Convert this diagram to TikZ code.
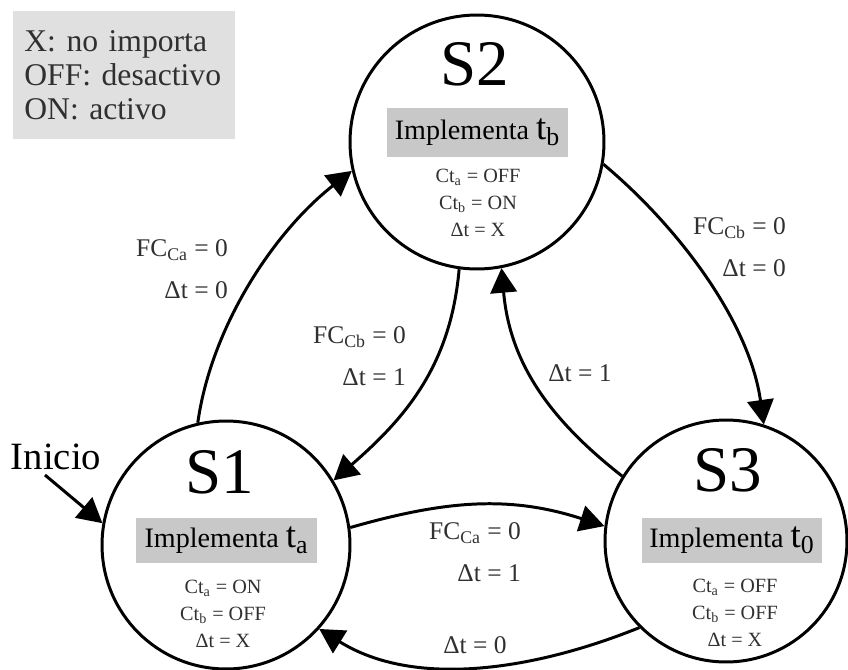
\documentclass[tikz,border=0pt]{standalone}
\usepackage{fontspec}
\setmainfont{Liberation Serif}
\usepackage{tikz}
\usetikzlibrary{arrows.meta}
\definecolor{gris}{HTML}{C8C8C8}
\definecolor{grisclaro}{HTML}{E0E0E0}
\definecolor{texto}{HTML}{303030}
\newcommand{\tgrande}[1]{{\fontsize{21}{21}\selectfont t\textsubscript{#1}}}
\tikzset{
    every node/.style={align=center,},
    estado/.style={draw,circle,line width=1.7pt,minimum size=4.96cm,inner sep=0pt,},
    titulo/.style={font=\fontsize{37}{37}\selectfont,},
    tarea/.style={fill=gris,minimum width=3.62cm,minimum height=0.9cm,inner sep=0pt,font=\fontsize{16}{18}\selectfont,},
    salidas/.style={font=\fontsize{11.5}{15.4}\selectfont,text=texto,},
    etiqueta/.style={align=right,font=\fontsize{14.5}{24}\selectfont,text=texto,},
    leyenda/.style={fill=grisclaro,align=left,text width=4cm,inner xsep=0.22cm,minimum height=2.56cm,font=\fontsize{18}{19.5}\selectfont,text=texto,},
    flecha/.style={line width=1.7pt,-{Triangle[length=14pt,width=15pt]},},
}

\begin{document}
\begin{tikzpicture}[x=0.02cm,y=0.02cm]
                \useasboundingbox (0,0) rectangle (848,-669);

                \node[leyenda,anchor=north west] (leyenda) at (13,-11) {X: no importa\\OFF: desactivo\\ON: activo};

                \node[estado] (s1) at (226,-545) {};
                \node[estado,minimum size=5.08cm] (s2) at (477,-142) {};
                \node[estado,minimum size=4.84cm] (s3) at (726,-541) {};

                \node[titulo] (s1n) at (220,-472) {S1};
                \node[tarea] (s1t) at (226.5,-540.5) {Implementa \tgrande{a}};
                \node[salidas] (s1s) at (223,-614) {Ct\textsubscript{a} = ON\\Ct\textsubscript{b} = OFF\\Δt = X};

                \node[titulo] (s2n) at (475,-64) {S2};
                \node[tarea,minimum height=0.98cm] (s2t) at (477.5,-132.5) {Implementa \tgrande{b}};
                \node[salidas] (s2s) at (478,-203) {Ct\textsubscript{a} = OFF\\Ct\textsubscript{b} = ON\\Δt = X};

                \node[titulo] (s3n) at (728,-470) {S3};
                \node[tarea] (s3t) at (732,-540.5) {Implementa \tgrande{0}};
                \node[salidas] (s3s) at (735,-613) {Ct\textsubscript{a} = OFF\\Ct\textsubscript{b} = OFF\\Δt = X};

                \node[font=\fontsize{22}{22}\selectfont] (inicio) at (56,-457) {Inicio};
                \coordinate (ini) at (45,-475);
                \draw[flecha] (ini) -- (s1.170);

                \draw[flecha] (s1.103) to[out=82,in=218,looseness=0.85] (s2.193);
                \draw[flecha] (s2.262) to[out=265,in=41] (s1.31);
                \draw[flecha] (s3.148) to[out=142,in=275] (s2.281);
                \draw[flecha] (s2.350) to[out=-40,in=98,looseness=0.85] (s3.72);
                \draw[flecha] (s1.8) to[out=16,in=162] (s3.173);
                \draw[flecha] (s3.225) to[out=202,in=-32,looseness=0.9] (s1.318);

                \node[etiqueta,anchor=east] (l12) at (234,-269) {FC\textsubscript{Ca} = 0\\Δt = 0};
                \node[etiqueta,anchor=east] (l21) at (412,-356.5) {FC\textsubscript{Cb} = 0\\Δt = 1};
                \node[etiqueta] (l32) at (580,-373) {Δt = 1};
                \node[etiqueta,anchor=east] (l23) at (792,-247.5) {FC\textsubscript{Cb} = 0\\Δt = 0};
                \node[etiqueta,anchor=east] (l13) at (527,-552) {FC\textsubscript{Ca} = 0\\Δt = 1};
                \node[etiqueta] (l31) at (475,-645) {Δt = 0};
            \end{tikzpicture}
\end{document}
